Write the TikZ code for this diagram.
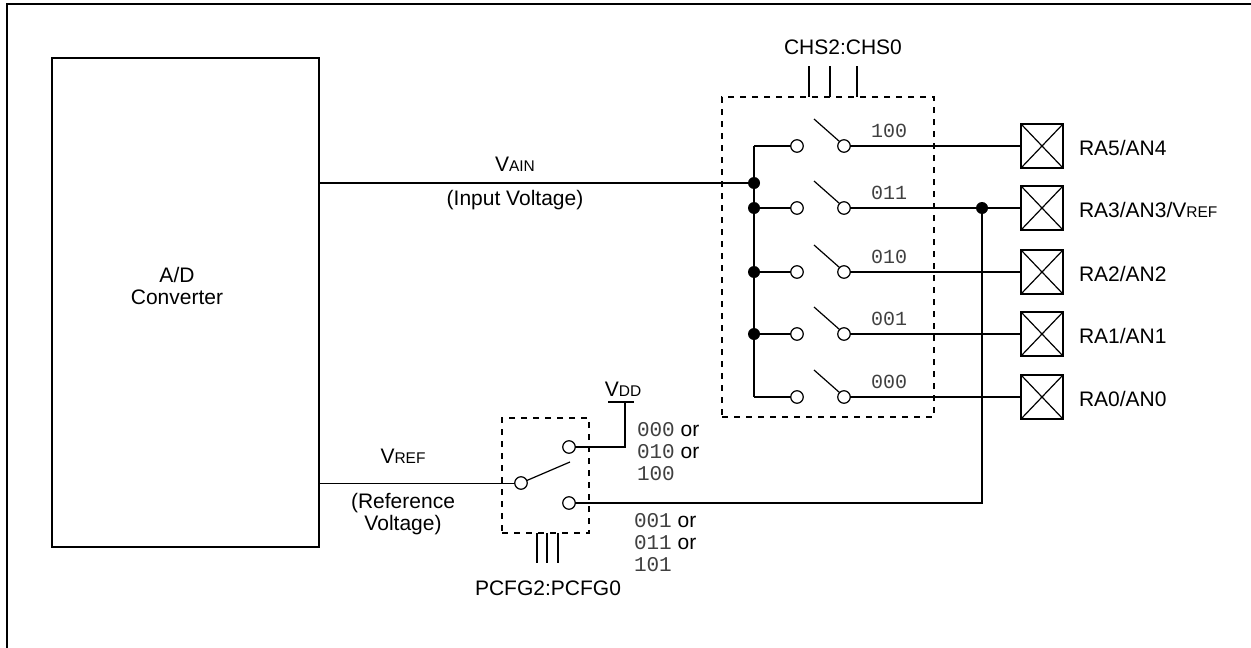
\documentclass[tikz,border=0pt]{standalone}
\usepackage{fontspec}
\setmainfont{Liberation Sans}
\newfontfamily\monofont{Liberation Mono}
\usetikzlibrary{calc}
\newcommand{\sm}[1]{{\fontsize{15.5}{15.5}\selectfont #1}}
\newcommand{\mc}[1]{{\color{black!75}\monofont #1}}
\begin{document}
\begin{tikzpicture}[x=1pt,y=-1pt,line width=1.6pt,
  every node/.style={font=\fontsize{21}{22}\selectfont, inner sep=0pt, outer sep=0pt},
  oc/.style={circle, draw, fill=white, minimum size=12.5pt, line width=1.2pt},
  dot/.style={circle, fill=black, minimum size=12pt},
  pinbox/.style={draw, minimum width=42pt, minimum height=44pt},
  dbox/.style={draw, dash pattern=on 6pt off 6pt, line width=1.6pt},
  codelbl/.style={anchor=base west, font=\monofont\fontsize{20}{22}\selectfont, text=black!75},
  lbl/.style={align=center}]
\useasboundingbox (0,0) rectangle (1251,648);
% outer frame
\draw (7,648) -- (7,4) -- (1251,4);
% A/D converter
\node[draw, minimum width=267pt, minimum height=489pt] (adc) at (185.5,302.5) {};
\node[lbl] (adclbl) at (177,286) {A/D\\Converter};
% CHS switch box
\node[dbox, minimum width=212pt, minimum height=320pt] (chsbox) at (828,257) {};
\foreach \x in {809,830,857} \draw (\x,66) -- (\x,97);
\node (chslbl) at (843,47) {CHS2:CHS0};
% rows
\foreach \y/\c/\n [count=\i] in {146/100/{RA5/AN4},208/011/{RA3/AN3/V\sm{REF}},272/010/{RA2/AN2},334/001/{RA1/AN1},397/000/{RA0/AN0}}{
  \coordinate (b\i) at (754,\y);
  \node[oc] (l\i) at (797,\y) {};
  \node[oc] (r\i) at (844,\y) {};
  \coordinate (t\i) at ($(r\i)+(-30,-27)$);
  \draw[line width=1.2pt] (t\i) -- (r\i.north west);
  \node[codelbl] (c\i) at (871,\y-9) {\c};
  \node[pinbox] (p\i) at (1042,\y) {};
  \draw[line width=1.2pt] (p\i.north west) -- (p\i.south east) (p\i.south west) -- (p\i.north east);
  \draw (r\i) -- (p\i);
  \draw (b\i) -- (l\i);
  \node[anchor=west] (n\i) at (1079,\y+2) {\n};
}
\draw (b1) -- (b5);
\node[dot] (vj) at (754,183) {};
\foreach \i in {2,3,4} \node[dot] (d\i) at (b\i) {};
% VAIN
\draw (adc.east |- vj) -- (vj);
\node (vainlbl) at (515,164) {V\sm{AIN}};
\node (inlbl) at (515,200) {(Input Voltage)};
% PCFG switch
\node[dbox, minimum width=87pt, minimum height=115pt] (pbox) at (545.5,475.5) {};
\node[oc] (pc) at (521,483) {};
\node[oc] (pu) at (569,447) {};
\node[oc] (pl) at (569,503) {};
\coordinate (pt) at (570,462);
\draw[line width=1.2pt] (pc) -- (pt);
\foreach \x in {537,547,558} \draw (\x,533) -- (\x,563);
\node (pcfglbl) at (548,588) {PCFG2:PCFG0};
% VDD
\coordinate (vdd) at (625,402);
\draw (pu) -| (vdd);
\draw (608,402) -- (634,402);
\node (vddlbl) at (623,389) {V\sm{DD}};
% VREF
\draw[line width=1pt] (adc.east |- pc) -- (pc);
\node (vreflbl) at (403,456) {V\sm{REF}};
\node[lbl] (reflbl) at (403,514) {(Reference\\Voltage)};
% RA3 junction to PCFG
\node[dot] (j) at (982,208) {};
\draw (j) |- (pl);
% code labels
\node[anchor=base west] (o1) at (637,436) {\mc{000} or};
\node[anchor=base west] (o2) at (637,458) {\mc{010} or};
\node[anchor=base west] (o3) at (637,480) {\mc{100}};
\node[anchor=base west] (o4) at (634,527) {\mc{001} or};
\node[anchor=base west] (o5) at (634,549) {\mc{011} or};
\node[anchor=base west] (o6) at (634,571) {\mc{101}};
\end{tikzpicture}
\end{document}
